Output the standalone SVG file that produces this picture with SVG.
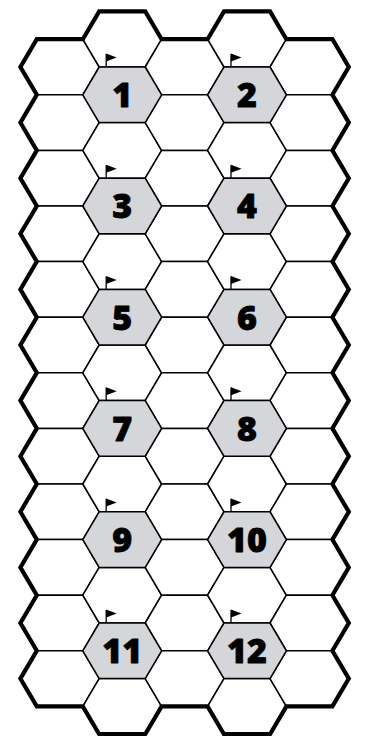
<svg xmlns="http://www.w3.org/2000/svg" xmlns:xlink="http://www.w3.org/1999/xlink" width="371" height="736" viewBox="0 0 371 736">
<style>
.hex{fill:#ffffff;stroke:#000000;stroke-width:1.5;stroke-linejoin:miter}
.num{fill:#d4d6d9;stroke:#000000;stroke-width:1.5;stroke-linejoin:miter}
.outline{fill:none;stroke:#000000;stroke-width:4.2;stroke-linejoin:miter;stroke-miterlimit:4}
.lbl{font-family:"Open Sans","DejaVu Sans",sans-serif;font-weight:800;font-size:34px;fill:#000000;stroke:#000000;stroke-width:0.8;stroke-linejoin:round;text-anchor:middle}
</style>
<defs>
<polygon id="hx" points="-39.4,0 -23,-27.8 23,-27.8 39.4,0 23,27.8 -23,27.8"/>
<g id="flag">
<line x1="0" y1="-13" x2="0" y2="0" stroke="#000" stroke-width="1.3"/>
<polygon points="0,-13.4 10.5,-9.4 0,-5.4" fill="#000"/>
</g>
</defs>
<rect x="0" y="0" width="371" height="736" fill="#ffffff"/>
<g id="grid">
<g id="col0" class="hex">
<use href="#hx" x="59.8" y="67"/><use href="#hx" x="59.8" y="122.6"/><use href="#hx" x="59.8" y="178.2"/><use href="#hx" x="59.8" y="233.8"/><use href="#hx" x="59.8" y="289.4"/><use href="#hx" x="59.8" y="345"/><use href="#hx" x="59.8" y="400.6"/><use href="#hx" x="59.8" y="456.2"/><use href="#hx" x="59.8" y="511.8"/><use href="#hx" x="59.8" y="567.4"/><use href="#hx" x="59.8" y="623"/><use href="#hx" x="59.8" y="678.6"/>
</g>
<g id="col1" class="hex">
<use href="#hx" x="122.2" y="39.2"/><use href="#hx" x="122.2" y="150.4"/><use href="#hx" x="122.2" y="261.6"/><use href="#hx" x="122.2" y="372.8"/><use href="#hx" x="122.2" y="484"/><use href="#hx" x="122.2" y="595.2"/><use href="#hx" x="122.2" y="706.4"/>
</g>
<g id="col2" class="hex">
<use href="#hx" x="184.6" y="67"/><use href="#hx" x="184.6" y="122.6"/><use href="#hx" x="184.6" y="178.2"/><use href="#hx" x="184.6" y="233.8"/><use href="#hx" x="184.6" y="289.4"/><use href="#hx" x="184.6" y="345"/><use href="#hx" x="184.6" y="400.6"/><use href="#hx" x="184.6" y="456.2"/><use href="#hx" x="184.6" y="511.8"/><use href="#hx" x="184.6" y="567.4"/><use href="#hx" x="184.6" y="623"/><use href="#hx" x="184.6" y="678.6"/>
</g>
<g id="col3" class="hex">
<use href="#hx" x="247" y="39.2"/><use href="#hx" x="247" y="150.4"/><use href="#hx" x="247" y="261.6"/><use href="#hx" x="247" y="372.8"/><use href="#hx" x="247" y="484"/><use href="#hx" x="247" y="595.2"/><use href="#hx" x="247" y="706.4"/>
</g>
<g id="col4" class="hex">
<use href="#hx" x="309.4" y="67"/><use href="#hx" x="309.4" y="122.6"/><use href="#hx" x="309.4" y="178.2"/><use href="#hx" x="309.4" y="233.8"/><use href="#hx" x="309.4" y="289.4"/><use href="#hx" x="309.4" y="345"/><use href="#hx" x="309.4" y="400.6"/><use href="#hx" x="309.4" y="456.2"/><use href="#hx" x="309.4" y="511.8"/><use href="#hx" x="309.4" y="567.4"/><use href="#hx" x="309.4" y="623"/><use href="#hx" x="309.4" y="678.6"/>
</g>
</g>
<path id="border" class="outline" d="M20.4,67 L36.8,39.2 L82.8,39.2 L99.2,11.4 L145.2,11.4 L161.6,39.2 L207.6,39.2 L224,11.4 L270,11.4 L286.4,39.2 L332.4,39.2 L348.8,67 L332.4,94.8 L348.8,122.6 L332.4,150.4 L348.8,178.2 L332.4,206 L348.8,233.8 L332.4,261.6 L348.8,289.4 L332.4,317.2 L348.8,345 L332.4,372.8 L348.8,400.6 L332.4,428.4 L348.8,456.2 L332.4,484 L348.8,511.8 L332.4,539.6 L348.8,567.4 L332.4,595.2 L348.8,623 L332.4,650.8 L348.8,678.6 L332.4,706.4 L286.4,706.4 L270,734.2 L224,734.2 L207.6,706.4 L161.6,706.4 L145.2,734.2 L99.2,734.2 L82.8,706.4 L36.8,706.4 L20.4,678.6 L36.8,650.8 L20.4,623 L36.8,595.2 L20.4,567.4 L36.8,539.6 L20.4,511.8 L36.8,484 L20.4,456.2 L36.8,428.4 L20.4,400.6 L36.8,372.8 L20.4,345 L36.8,317.2 L20.4,289.4 L36.8,261.6 L20.4,233.8 L36.8,206 L20.4,178.2 L36.8,150.4 L20.4,122.6 L36.8,94.8 Z"/>
<g id="connectors"/>
<g id="hex1"><use href="#hx" class="num" x="122.2" y="94.8"/><use href="#flag" x="106.2" y="67"/><text class="lbl" x="122.2" y="107.2">1</text></g>
<g id="hex2"><use href="#hx" class="num" x="247" y="94.8"/><use href="#flag" x="231" y="67"/><text class="lbl" x="247" y="107.2">2</text></g>
<g id="hex3"><use href="#hx" class="num" x="122.2" y="206"/><use href="#flag" x="106.2" y="178.2"/><text class="lbl" x="122.2" y="218.4">3</text></g>
<g id="hex4"><use href="#hx" class="num" x="247" y="206"/><use href="#flag" x="231" y="178.2"/><text class="lbl" x="247" y="218.4">4</text></g>
<g id="hex5"><use href="#hx" class="num" x="122.2" y="317.2"/><use href="#flag" x="106.2" y="289.4"/><text class="lbl" x="122.2" y="329.6">5</text></g>
<g id="hex6"><use href="#hx" class="num" x="247" y="317.2"/><use href="#flag" x="231" y="289.4"/><text class="lbl" x="247" y="329.6">6</text></g>
<g id="hex7"><use href="#hx" class="num" x="122.2" y="428.4"/><use href="#flag" x="106.2" y="400.6"/><text class="lbl" x="122.2" y="440.8">7</text></g>
<g id="hex8"><use href="#hx" class="num" x="247" y="428.4"/><use href="#flag" x="231" y="400.6"/><text class="lbl" x="247" y="440.8">8</text></g>
<g id="hex9"><use href="#hx" class="num" x="122.2" y="539.6"/><use href="#flag" x="106.2" y="511.8"/><text class="lbl" x="122.2" y="552">9</text></g>
<g id="hex10"><use href="#hx" class="num" x="247" y="539.6"/><use href="#flag" x="231" y="511.8"/><text class="lbl" x="247" y="552">10</text></g>
<g id="hex11"><use href="#hx" class="num" x="122.2" y="650.8"/><use href="#flag" x="106.2" y="623"/><text class="lbl" x="122.2" y="663.2">11</text></g>
<g id="hex12"><use href="#hx" class="num" x="247" y="650.8"/><use href="#flag" x="231" y="623"/><text class="lbl" x="247" y="663.2">12</text></g>
</svg>
